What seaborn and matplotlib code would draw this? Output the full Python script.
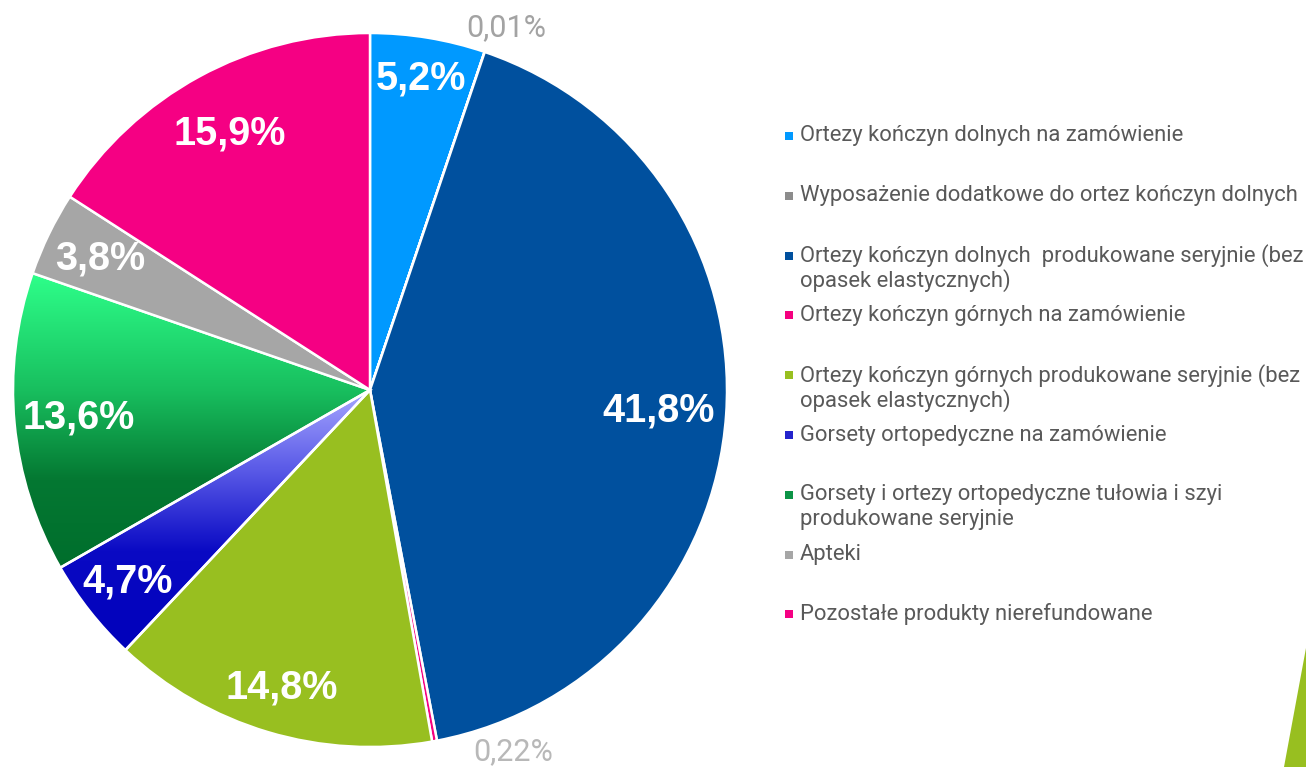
import numpy as np
import matplotlib
matplotlib.use("Agg")
import matplotlib.pyplot as plt
import seaborn as sns
from matplotlib.colors import LinearSegmentedColormap
from matplotlib.patches import Polygon, Rectangle

# ---------------- data ----------------
categories = [
    "Ortezy kończyn dolnych na zamówienie",
    "Wyposażenie dodatkowe do ortez kończyn dolnych",
    "Ortezy kończyn dolnych  produkowane seryjnie (bez\nopasek elastycznych)",
    "Ortezy kończyn górnych na zamówienie",
    "Ortezy kończyn górnych produkowane seryjnie (bez\nopasek elastycznych)",
    "Gorsety ortopedyczne na zamówienie",
    "Gorsety i ortezy ortopedyczne tułowia i szyi\nprodukowane seryjnie",
    "Apteki",
    "Pozostałe produkty nierefundowane",
]
shares = [5.2, 0.01, 41.8, 0.22, 14.8, 4.7, 13.6, 3.8, 15.9]
value_labels = ["5,2%", "0,01%", "41,8%", "0,22%", "14,8%", "4,7%", "13,6%", "3,8%", "15,9%"]

# ---------------- style ----------------
colors = ["#0099FF", "#8C8C8C", "#00509E", "#F5007F", "#98BF20",
          "#2424CC", "#0C9446", "#A6A6A6", "#F50083"]
gradients = {
    5: [(0.0, "#A8A8FF"), (0.3, "#5C5CE8"), (0.62, "#0A0AC4"), (1.0, "#0000BA")],
    6: [(0.0, "#2EFF8A"), (0.4, "#18BE5E"), (0.7, "#047832"), (1.0, "#006E2C")],
}
label_dist = [0.885, None, 0.81, None, 0.87, 0.865, 0.82, 0.84, 0.82]
outside_offsets = {1: (22, 24), 3: (79, -11)}
outside_colors = {1: "#A3A3A3", 3: "#B8B8B8"}

sns.set_theme(style="white")
plt.rcParams["font.family"] = ["Roboto", "DejaVu Sans"]

W, H = 1306, 767
fig = plt.figure(figsize=(W / 100, H / 100), dpi=100)
ax = fig.add_axes([0, 0, 1, 1])

cx, cy, R = 370, H - 390, 357
wedges, _ = ax.pie(shares, colors=colors, startangle=90, counterclock=False,
                   center=(cx, cy), radius=R, frame=True,
                   wedgeprops=dict(edgecolor="white", linewidth=1.8))

# gradient fills
for i, stops in gradients.items():
    w = wedges[i]
    v = w.get_path().vertices
    x0, x1 = v[:, 0].min(), v[:, 0].max()
    y0, y1 = v[:, 1].min(), v[:, 1].max()
    cmap = LinearSegmentedColormap.from_list(f"g{i}", stops)
    img = np.linspace(0, 1, 256).reshape(-1, 1)
    im = ax.imshow(img, cmap=cmap, extent=[x0, x1, y0, y1], origin="upper",
                   aspect="auto", interpolation="bilinear", zorder=0.5)
    im.set_clip_path(w)
    w.set_facecolor("none")
    w.set_zorder(1)

# value labels
for i, w in enumerate(wedges):
    th = np.deg2rad((w.theta1 + w.theta2) / 2)
    if label_dist[i] is not None:
        d = label_dist[i] * R
        ax.text(cx + d * np.cos(th), cy + d * np.sin(th), value_labels[i],
                ha="center", va="center", color="white", fontsize=28.5,
                fontweight="bold", family=["Liberation Sans", "DejaVu Sans"], zorder=3)
    else:
        ex, ey = cx + R * np.cos(th), cy + R * np.sin(th)
        ax.annotate(value_labels[i], xy=(ex, ey), xytext=outside_offsets[i],
                    textcoords="offset pixels", ha="center", va="center",
                    fontsize=22, color=outside_colors[i],
                    family=["Roboto", "DejaVu Sans"], zorder=3)

# legend (manual, uniform slots)
leg_x, leg_y0, leg_step, line_h = 800, 136, 59.8, 25
for i, cat in enumerate(categories):
    y = H - (leg_y0 + leg_step * i)
    ax.add_patch(Rectangle((785, y - 4), 8, 8, facecolor=colors[i], edgecolor="none"))
    for k, line in enumerate(cat.split("\n")):
        ax.text(leg_x, y - k * line_h, line, ha="left", va="center",
                fontsize=15.8, color="#595959")

# decorative triangle
ax.add_patch(Polygon([(1306, H - 648), (1284, 0), (1306, 0)], closed=True,
                     facecolor="#98BF20", edgecolor="none", clip_on=False))

ax.set_xlim(0, W)
ax.set_ylim(0, H)
ax.set_aspect("auto")
ax.axis("off")
fig.savefig("out.png", dpi=100, facecolor="white")
